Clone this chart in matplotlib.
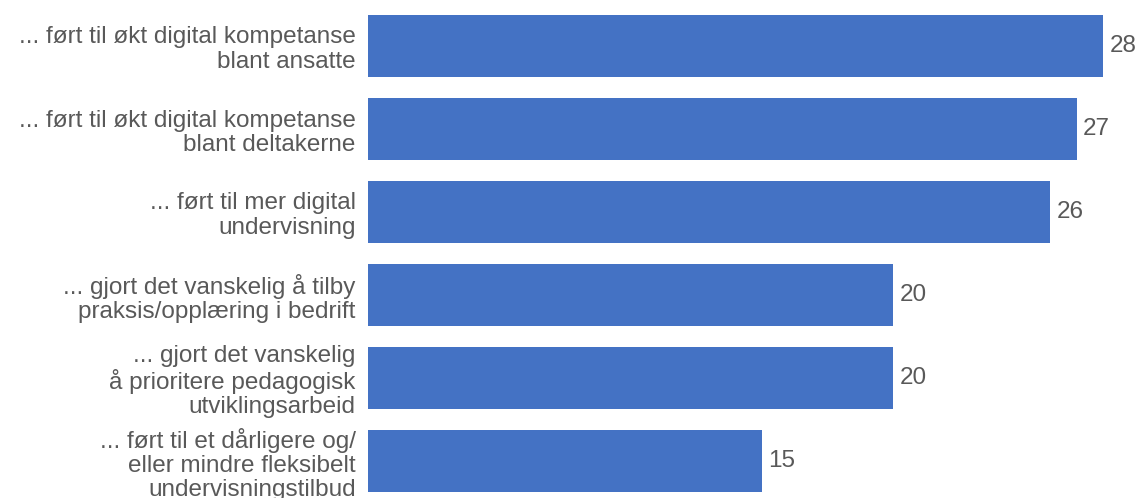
import matplotlib.pyplot as plt

plt.rcParams['font.family'] = ['Liberation Sans', 'DejaVu Sans']

# Data
labels = [
    "... ført til økt digital kompetanse\nblant ansatte",
    "... ført til økt digital kompetanse\nblant deltakerne",
    "... ført til mer digital\nundervisning",
    "... gjort det vanskelig å tilby\npraksis/opplæring i bedrift",
    "... gjort det vanskelig\nå prioritere pedagogisk\nutviklingsarbeid",
    "... ført til et dårligere og/\neller mindre fleksibelt\nundervisningstilbud",
]
values = [28, 27, 26, 20, 20, 15]

W, H = 1137, 498
fig = plt.figure(figsize=(W / 100, H / 100), dpi=100)
ax = fig.add_axes([368 / W, 0, 761 / W, 1])

ypos = list(range(len(values)))
bars = ax.barh(ypos, values, height=0.75, color='#4472C4')

ax.set_xlim(0, 29)
ax.set_ylim(5 + 37 / 83, -46 / 83)

ax.set_yticks(ypos)
ax.set_yticklabels(labels, fontsize=17.5, color='#595959', linespacing=1.12)
ax.tick_params(axis='y', length=0, pad=9)
ax.set_xticks([])

for b, v in zip(bars, values):
    ax.text(v + 0.25, b.get_y() + b.get_height() / 2, str(v),
            va='center', ha='left', fontsize=17.5, color='#595959')

for s in ax.spines.values():
    s.set_visible(False)

fig.savefig('out.png', dpi=100)
